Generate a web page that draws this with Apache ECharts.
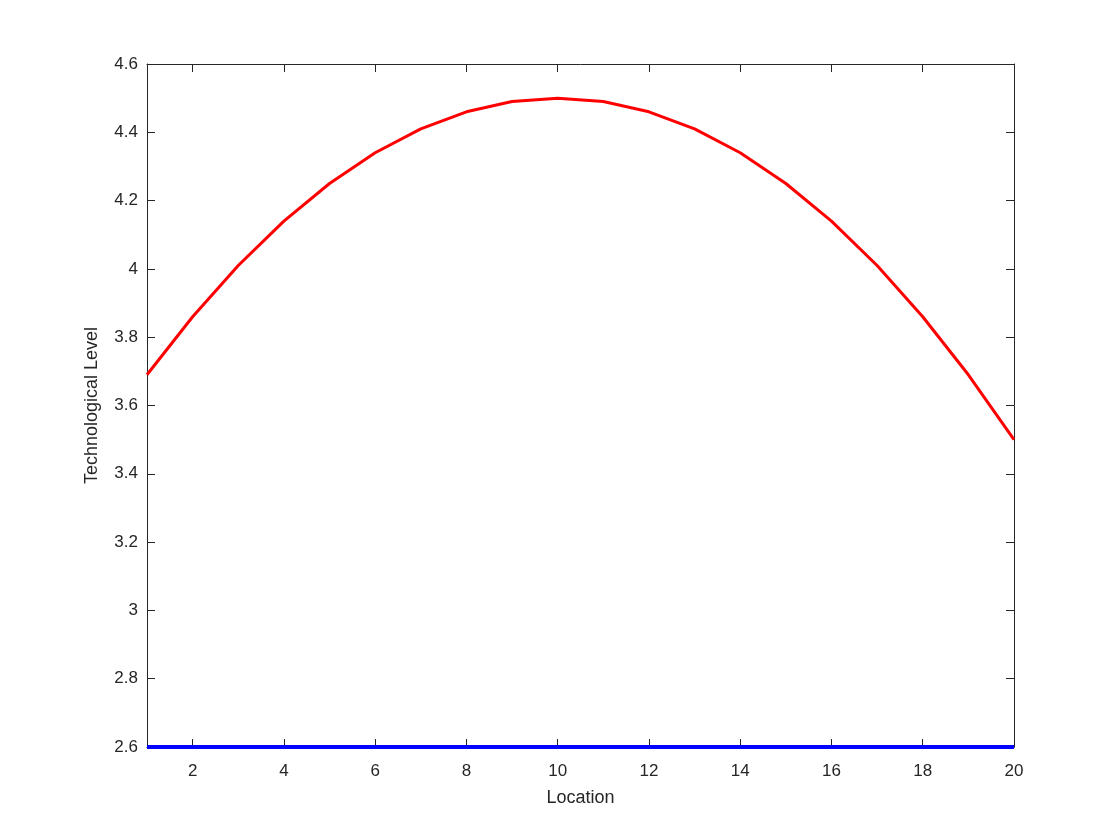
<!DOCTYPE html>
<html>
<head>
<meta charset="utf-8">
<script src="https://cdn.jsdelivr.net/npm/echarts@6/dist/echarts.min.js"></script>
<style>
  html, body { margin: 0; padding: 0; background: #fff; }
  #main { width: 1120px; height: 840px; }
</style>
</head>
<body>
<div id="main"></div>
<script>
// values
var locations = [1, 2, 3, 4, 5, 6, 7, 8, 9, 10, 11, 12, 13, 14, 15, 16, 17, 18, 19, 20]
var levelRed = [3.69, 3.86, 4.01, 4.14, 4.25, 4.34, 4.41, 4.46, 4.49, 4.50,
                4.49, 4.46, 4.41, 4.34, 4.25, 4.14, 4.01, 3.86, 3.69, 3.50]
var levelBlue = [2.6, 2.6, 2.6, 2.6, 2.6, 2.6, 2.6, 2.6, 2.6, 2.6,
                 2.6, 2.6, 2.6, 2.6, 2.6, 2.6, 2.6, 2.6, 2.6, 2.6]
var xTicks = [2, 4, 6, 8, 10, 12, 14, 16, 18, 20]

var font = 'Liberation Sans, Helvetica, Arial, sans-serif'
var ink = '#262626'

function pairs (ys) {
    return locations.map(function (x, i) { return [x, ys[i]] })
}

var axisLine = { show: true, onZero: false, lineStyle: { color: ink, width: 1 } }
var tick = { show: true, inside: true, length: 8, lineStyle: { color: ink, width: 1 } }

var option = {
    animation: false,
    backgroundColor: '#fff',
    grid: { left: 147, right: 106, top: 64, bottom: 93, containLabel: false },
    xAxis: [
        {
            type: 'value', position: 'bottom', min: 1, max: 20,
            name: 'Location', nameLocation: 'middle', nameGap: 42,
            nameTextStyle: { fontFamily: font, fontSize: 18, color: ink },
            axisLine: axisLine,
            axisTick: Object.assign({ customValues: xTicks }, tick),
            axisLabel: { customValues: xTicks, margin: 16, fontFamily: font, fontSize: 17, color: ink },
            splitLine: { show: false }
        },
        {
            type: 'value', position: 'top', min: 1, max: 20,
            axisLine: axisLine,
            axisTick: Object.assign({ customValues: xTicks }, tick),
            axisLabel: { show: false },
            splitLine: { show: false }
        }
    ],
    yAxis: [
        {
            type: 'value', position: 'left', min: 2.6, max: 4.6, interval: 0.2,
            name: 'Technological Level', nameLocation: 'middle', nameGap: 46,
            nameTextStyle: { fontFamily: font, fontSize: 18, color: ink },
            axisLine: axisLine,
            axisTick: tick,
            axisLabel: {
                margin: 9, fontFamily: font, fontSize: 17, color: ink,
                formatter: function (v) { return String(+v.toFixed(1)) }
            },
            splitLine: { show: false }
        },
        {
            type: 'value', position: 'right', min: 2.6, max: 4.6, interval: 0.2,
            axisLine: axisLine,
            axisTick: tick,
            axisLabel: { show: false },
            splitLine: { show: false }
        }
    ],
    series: [
        {
            name: 'red', type: 'line', data: pairs(levelRed),
            showSymbol: false, clip: false,
            lineStyle: { color: '#ff0000', width: 3 }
        },
        {
            name: 'blue', type: 'line', data: pairs(levelBlue),
            showSymbol: false, clip: false,
            lineStyle: { color: '#0000ff', width: 4 }
        }
    ]
}

var myChart = echarts.init(document.getElementById('main'))
myChart.setOption(option)
</script>
</body>
</html>
